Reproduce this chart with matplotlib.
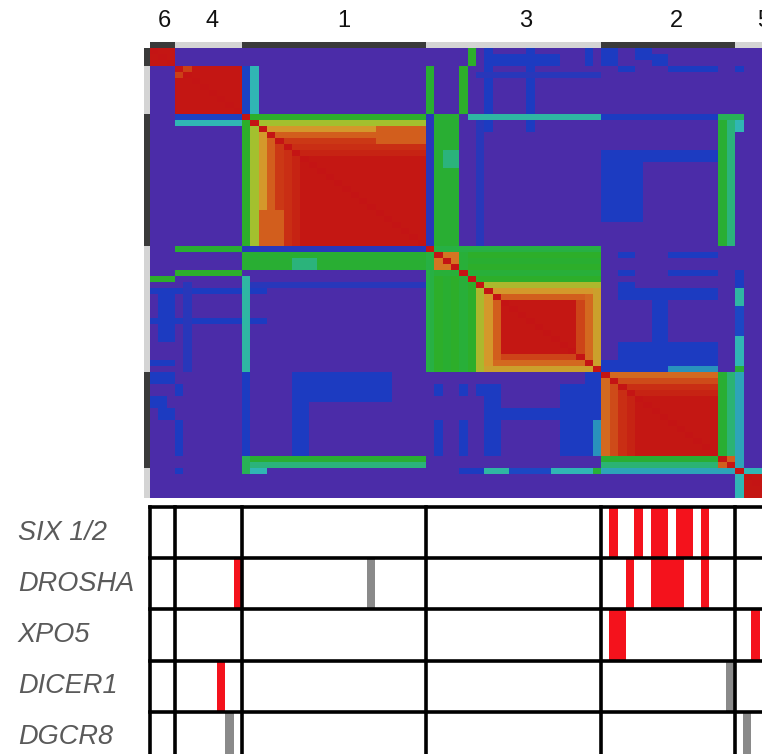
import numpy as np
import matplotlib
matplotlib.use("Agg")
import matplotlib.pyplot as plt
from matplotlib.colors import LinearSegmentedColormap, ListedColormap
from matplotlib import transforms

plt.rcParams['font.family'] = ['Liberation Sans', 'DejaVu Sans']

# consensus clusters, in matrix order
cluster_labels = ["6", "4", "1", "3", "2", "5"]
cluster_sizes = [3, 8, 22, 21, 16, 5]

# how strongly each sample co-clusters with the rest of its own cluster
member_strength = (
    [0.97, 0.97, 0.97]
    + [0.96] * 8
    + [0.50, 0.60, 0.70, 0.80, 0.86, 0.88, 0.90] + [0.95] * 15
    + [0.42, 0.50, 0.48, 0.50, 0.45, 0.50, 0.62, 0.70, 0.80]
    + [0.95] * 9 + [0.84, 0.78, 0.68]
    + [0.78, 0.83, 0.88, 0.90] + [0.95] * 10 + [0.47, 0.37]
    + [0.30, 0.97, 0.97, 0.97, 0.97]
)

# extra consensus values: (first row, last row, first col, last col, value), mirrored
consensus_patches = [
    (3, 4, 3, 4, 0.85),
    (34, 36, 34, 36, 0.76),
    (68, 69, 68, 69, 0.80),
    (13, 15, 27, 32, 0.80),
    (0, 2, 38, 38, 0.50),
    (3, 10, 33, 33, 0.48),
    (3, 10, 37, 37, 0.50),
    (3, 10, 11, 11, 0.14),
    (3, 10, 12, 12, 0.30),
    (0, 13, 40, 40, 0.12),
    (0, 13, 45, 45, 0.12),
    (4, 4, 39, 53, 0.10),
    (1, 2, 41, 48, 0.12),
    (0, 2, 52, 52, 0.12),
    (0, 2, 54, 55, 0.12),
    (0, 1, 58, 59, 0.12),
    (1, 2, 60, 61, 0.12),
    (3, 3, 56, 57, 0.12),
    (3, 3, 62, 67, 0.12),
    (3, 3, 70, 70, 0.12),
    (45, 48, 1, 2, 0.12),
    (11, 32, 33, 33, 0.10),
    (11, 32, 34, 36, 0.47),
    (17, 19, 35, 36, 0.36),
    (11, 32, 39, 39, 0.10),
    (11, 11, 38, 53, 0.32),
    (11, 11, 54, 67, 0.12),
    (11, 11, 68, 70, 0.40),
    (12, 13, 70, 70, 0.30),
    (12, 32, 68, 68, 0.47),
    (12, 32, 69, 69, 0.36),
    (17, 28, 54, 58, 0.12),
    (17, 18, 59, 67, 0.12),
    (34, 34, 56, 57, 0.12), (34, 34, 62, 67, 0.12),
    (37, 37, 56, 57, 0.12), (37, 37, 62, 67, 0.12),
    (39, 41, 56, 57, 0.12),
    (40, 41, 58, 67, 0.12),
    (42, 48, 60, 61, 0.12),
    (49, 51, 56, 67, 0.12),
    (52, 53, 54, 67, 0.12),
    (53, 53, 62, 67, 0.26),
    (37, 39, 70, 70, 0.12),
    (40, 42, 70, 70, 0.32),
    (43, 47, 70, 70, 0.15),
    (48, 52, 70, 70, 0.30),
    (53, 53, 70, 70, 0.45),
    (54, 69, 70, 70, 0.28),
]

# mutation tracks: sample positions (matrix order)
genes = ["SIX 1/2", "DROSHA", "XPO5", "DICER1", "DGCR8"]
red_hits = [
    [55, 58, 60, 61, 63, 64, 66],
    [10, 57, 60, 61, 62, 63, 66],
    [55, 56, 72],
    [8],
    [],
]
grey_hits = [
    [],
    [26],
    [],
    [69],
    [9, 71],
]

# build consensus matrix
n = sum(cluster_sizes)
bounds = np.cumsum([0] + cluster_sizes)
strength = np.array(member_strength)
cons = np.zeros((n, n))
for k in range(len(cluster_sizes)):
    a, b = bounds[k], bounds[k + 1]
    cons[a:b, a:b] = np.minimum.outer(strength[a:b], strength[a:b])
for r0, r1, c0, c1, v in consensus_patches:
    cons[r0:r1 + 1, c0:c1 + 1] = v
    cons[c0:c1 + 1, r0:r1 + 1] = v
np.fill_diagonal(cons, 1.0)

cmap = LinearSegmentedColormap.from_list("consensus", [
    (0.0, "#4b2ca8"), (0.05, "#472eab"), (0.12, "#1b3cc2"), (0.2, "#1f5cc8"),
    (0.3, "#31b8b4"), (0.42, "#27b044"), (0.5, "#2bae2a"), (0.6, "#a3c02e"),
    (0.7, "#d49a2c"), (0.78, "#d46a20"), (0.86, "#cc3a16"), (0.92, "#c41a13"),
    (1.0, "#c41414"),
])

W, H = 762, 754
fig = plt.figure(figsize=(W / 100, H / 100), dpi=100)


def frac(xa, ya, xb, yb):
    return [xa / W, 1 - yb / H, (xb - xa) / W, (yb - ya) / H]


cell_w = 8.35
left = 150
right = left + n * cell_w

ax_hm = fig.add_axes(frac(left, 48, right, 498))
ax_hm.imshow(cons, cmap=cmap, vmin=0, vmax=1, aspect='auto',
             interpolation='nearest', extent=(0, n, n, 0))
ax_hm.axis('off')

member = np.repeat(np.arange(len(cluster_sizes)), cluster_sizes) % 2
bar_cmap = ListedColormap(['#3a3a3a', '#d4d4d4'])

ax_top = fig.add_axes(frac(left, 42, right, 48))
ax_top.imshow(member[None, :], cmap=bar_cmap, vmin=0, vmax=1, aspect='auto',
              interpolation='nearest', extent=(0, n, 1, 0))
ax_top.axis('off')

ax_side = fig.add_axes(frac(144, 48, left, 498))
ax_side.imshow(member[:, None], cmap=bar_cmap, vmin=0, vmax=1, aspect='auto',
               interpolation='nearest', extent=(0, 1, n, 0))
ax_side.axis('off')

# cluster numbers above the matrix
label_shift = [0.2, 0.4, 1.2, 1.5, 1.1, 1.0]
trans_top = transforms.blended_transform_factory(ax_hm.transData, fig.transFigure)
for k, lab in enumerate(cluster_labels):
    cx = (bounds[k] + bounds[k + 1]) / 2 + label_shift[k]
    ax_hm.text(cx, 1 - 21 / H, lab, transform=trans_top, ha='center', va='center',
               fontsize=17, color='#111111')

# mutation tracks
row_h = 51.2
ax_tr = fig.add_axes(frac(left, 507, right, 507 + row_h * len(genes)))
ax_tr.set_xlim(0, n)
ax_tr.set_ylim(len(genes), 0)
ax_tr.axis('off')
for r in range(len(genes)):
    if red_hits[r]:
        ax_tr.bar(np.array(red_hits[r]) + 0.5, 1, width=1, bottom=r,
                  color='#f4121c', linewidth=0, zorder=1)
    if grey_hits[r]:
        ax_tr.bar(np.array(grey_hits[r]) + 0.5, 1, width=1, bottom=r,
                  color='#8a8a8a', linewidth=0, zorder=1)
for yl in range(len(genes) + 1):
    ax_tr.axhline(yl, color='black', lw=2.6, clip_on=False, zorder=3)
for xb in list(bounds):
    ax_tr.axvline(xb, color='black', lw=2.6, clip_on=False, zorder=3)

trans_lab = transforms.blended_transform_factory(fig.transFigure, ax_tr.transData)
for r, g in enumerate(genes):
    ax_tr.text(18 / W, r + 0.5, g, transform=trans_lab, ha='left', va='center',
               fontsize=19.5, style='italic', color='#5a5a5a')

fig.savefig("out.png", dpi=100)
